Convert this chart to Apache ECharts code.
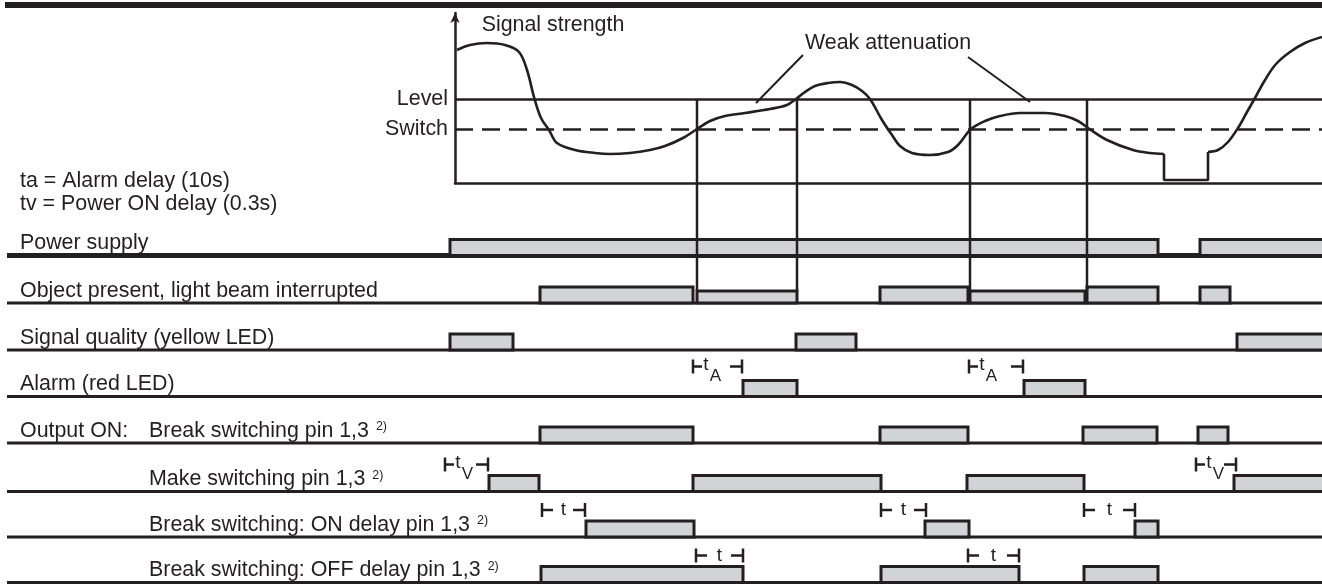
<!DOCTYPE html>
<html>
<head>
<meta charset="utf-8">
<script src="https://cdn.jsdelivr.net/npm/echarts@6/dist/echarts.min.js"></script>
<style>
html,body{margin:0;padding:0;background:#ffffff;}
#chart{width:1322px;height:584px;}
</style>
</head>
<body>
<div id="chart"></div>
<script>
// ================= DATA =================
// time values share one time axis; signal strength in signal units (0 = bottom of signal plot)
const signalCurve = [[457,133],[470,138],[487,140],[505,138],[519,131],[527,113],[534,86],[541,65],[549,53],[557,40],[575,33],[595,30],[610,29],[630,30],[650,33],[665,37],[683,45],[697,54],[710,62],[725,67],[745,70],[770,74],[787,78],[796,84],[805,91],[815,97],[828,100],[840,101],[852,98],[862,92],[870,84],[882,63],[892,48],[900,37],[912,30],[930,28],[948,31],[958,38],[971,54],[985,62],[1000,67],[1020,70],[1045,70],[1065,67],[1078,62],[1088,55],[1107,43],[1133,33],[1150,30],[1164,29]];
const signalNotch = [[1164,29],[1164,3],[1208,3],[1208,31]];
const signalRecovery = [[1208,31],[1218,33],[1228,41],[1238,55],[1247,71],[1255,85],[1265,103],[1276,119],[1290,131],[1305,140],[1322,146]];
const LEVEL = 84;
const SWITCH = 54;
const eventTimes = [697, 797, 970, 1087];

const rowLabels = ['Power supply', 'Object present, light beam interrupted', 'Signal quality (yellow LED)', 'Alarm (red LED)',
  'Break switching pin 1,3', 'Make switching pin 1,3', 'Break switching: ON delay pin 1,3', 'Break switching: OFF delay pin 1,3'];
const rowFootnote = ['', '', '', '', '2)', '2)', '2)', '2)'];
const groupLabel = 'Output ON:';
const noteTexts = ['ta = Alarm delay (10s)', 'tv = Power ON delay (0.3s)'];
const signalTitle = 'Signal strength';
const annotationText = 'Weak attenuation';
const levelLabel = 'Level';
const switchLabel = 'Switch';

const powerPulses    = [[450,1158],[1200,1330]];
const objectPulses   = [[540,693],[880,968],[1087,1158],[1200,1230]];
const objectWeakPulses = [[697,797],[970,1085]];
const qualityPulses  = [[450,513],[796,856],[1237,1330]];
const alarmPulses    = [[743,797],[1024,1085]];
const breakPulses    = [[540,693],[880,968],[1083,1157],[1198,1228]];
const makePulses     = [[489,539],[693,881],[967,1084],[1234,1330]];
const onDelayPulses  = [[586,694],[925,969],[1135,1158]];
const offDelayPulses = [[541,743],[881,1019],[1084,1158]];

const alarmDelayMarks   = [[693,742],[969,1023]];
const powerOnDelayMarks = [[445,488],[1196,1236]];
const onDelayMarks      = [[542,585],[881,926],[1084,1135]];
const offDelayMarks     = [[696,743],[968,1019]];

// ================= LAYOUT / STYLE =================
const INK = '#231f20';
const FILL = '#d1d3d4';
const FONT = '"Liberation Sans", Arial, Helvetica, sans-serif';
const FS = 21.4;
const SIG_T0 = 455;                     // time where signal plot starts
const ROW_BASE = [255.5, 303, 350, 396.5, 443, 491.5, 537, 582.5];
const ROW_LABEL_X = [20, 20, 20, 20, 149, 149, 149, 149];
const LABEL_RISE = 12;
const NOTE_POS = [[20, 181], [20, 204]];
const BASE_X0 = 7, BASE_X1 = 1322;
const SIG_BOTTOM_LAYOUT = 183;
const BAR_H = 16, WEAK_H = 12;
const ANNO = { text: [888, 140], lines: [[[803,128],[756,80]], [[968,126],[1030,81]]], title: [553, 158] };

const rowPulses = [powerPulses, objectPulses, qualityPulses, alarmPulses, breakPulses, makePulses, onDelayPulses, offDelayPulses];
const barData = [];
rowPulses.forEach((arr, r) => arr.forEach(p => barData.push([p[0], p[1], r, 0])));
objectWeakPulses.forEach(p => barData.push([p[0], p[1], 1, 1]));

const markData = [];
alarmDelayMarks.forEach(p => markData.push([p[0], p[1], 3, 1]));
powerOnDelayMarks.forEach(p => markData.push([p[0], p[1], 5, 2]));
onDelayMarks.forEach(p => markData.push([p[0], p[1], 6, 0]));
offDelayMarks.forEach(p => markData.push([p[0], p[1], 7, 0]));
const SUBS = ['', 'A', 'V'];

function txt(x, y, text, extra) {
  return Object.assign({ type: 'text', x: x, y: y, style: Object.assign({
    text: text, fill: INK, fontSize: FS, fontFamily: FONT, align: 'left', verticalAlign: 'middle'
  }, extra || {}) });
}
function seg(p, q, w) {
  return { type: 'line', shape: { x1: p[0], y1: p[1], x2: q[0], y2: q[1] }, style: { stroke: INK, lineWidth: w || 2.5 } };
}

const chart = echarts.init(document.getElementById('chart'), null, { renderer: 'canvas' });

chart.setOption({
  animation: false,
  backgroundColor: '#ffffff',
  graphic: [{ type: 'rect', shape: { x: 5, y: 2, width: 1320, height: 6 }, style: { fill: INK } }],
  grid: [
    { left: SIG_T0, right: 0, top: 13, height: 170 },
    { left: 0, right: 0, top: 0, height: 584 }
  ],
  xAxis: [
    { gridIndex: 0, type: 'value', min: SIG_T0, max: 1322,
      axisLine: { show: true, lineStyle: { color: INK, width: 2.5 } },
      axisTick: { show: false }, axisLabel: { show: false }, splitLine: { show: false } },
    { gridIndex: 1, type: 'value', min: 0, max: 1322, show: false, splitLine: { show: false } }
  ],
  yAxis: [
    { gridIndex: 0, type: 'value', min: 0, max: 170,
      axisLine: { show: true, symbol: ['none', 'arrow'], symbolSize: [7, 10], lineStyle: { color: INK, width: 2.5 } },
      axisTick: { show: false }, axisLabel: { show: false }, splitLine: { show: false } },
    { gridIndex: 1, type: 'value', min: 0, max: 584, inverse: true, show: false, splitLine: { show: false } }
  ],
  series: [
    // signal curve
    { type: 'line', xAxisIndex: 0, yAxisIndex: 0, data: signalCurve, smooth: 0.35, showSymbol: false, z: 5,
      lineStyle: { color: INK, width: 2.6 },
      markLine: { silent: true, symbol: ['none', 'none'], animation: false,
        data: [
          { yAxis: LEVEL, lineStyle: { type: 'solid', color: INK, width: 2.5 }, label: { formatter: levelLabel } },
          { yAxis: SWITCH, lineStyle: { type: [18, 9], color: INK, width: 2.5 }, label: { formatter: switchLabel } }
        ],
        label: { show: true, position: 'start', distance: 7, color: INK, fontSize: FS, fontFamily: FONT } } },
    { type: 'line', xAxisIndex: 0, yAxisIndex: 0, data: signalNotch, smooth: false, showSymbol: false, z: 5,
      lineStyle: { color: INK, width: 2.6 } },
    { type: 'line', xAxisIndex: 0, yAxisIndex: 0, data: signalRecovery, smooth: 0.35, showSymbol: false, z: 5,
      lineStyle: { color: INK, width: 2.6 } },
    // event lines in signal plot
    { type: 'custom', xAxisIndex: 0, yAxisIndex: 0, z: 6, data: eventTimes.map(t => [t]),
      renderItem: (params, api) => seg(api.coord([api.value(0), LEVEL]), api.coord([api.value(0), 0]), 2.5) },
    // annotations in signal plot
    { type: 'custom', xAxisIndex: 0, yAxisIndex: 0, z: 6, data: [[0]],
      renderItem: (params, api) => {
        const t = api.coord(ANNO.text), ti = api.coord(ANNO.title);
        return { type: 'group', children: [
          txt(t[0], t[1], annotationText, { align: 'center' }),
          txt(ti[0], ti[1], signalTitle, { align: 'center' }),
          seg(api.coord(ANNO.lines[0][0]), api.coord(ANNO.lines[0][1]), 2),
          seg(api.coord(ANNO.lines[1][0]), api.coord(ANNO.lines[1][1]), 2)
        ] };
      } },
    // row baselines
    { type: 'custom', xAxisIndex: 1, yAxisIndex: 1, z: 2, data: ROW_BASE.map((b, i) => [i]),
      renderItem: (params, api) => {
        const r = api.value(0);
        return seg(api.coord([BASE_X0, ROW_BASE[r]]), api.coord([BASE_X1, ROW_BASE[r]]), r === 0 ? 5 : 3);
      } },
    // pulses
    { type: 'custom', xAxisIndex: 1, yAxisIndex: 1, z: 3, data: barData,
      renderItem: (params, api) => {
        const base = ROW_BASE[api.value(2)];
        const h = api.value(3) ? WEAK_H : BAR_H;
        const p0 = api.coord([api.value(0), base - h]);
        const p1 = api.coord([api.value(1), base]);
        return { type: 'rect', shape: { x: p0[0], y: p0[1], width: p1[0] - p0[0], height: p1[1] - p0[1] },
          style: { fill: FILL, stroke: INK, lineWidth: 3 } };
      } },
    // event lines continuing down into rows
    { type: 'custom', xAxisIndex: 1, yAxisIndex: 1, z: 6, data: eventTimes.map(t => [t]),
      renderItem: (params, api) => seg(api.coord([api.value(0), SIG_BOTTOM_LAYOUT]), api.coord([api.value(0), ROW_BASE[1] - WEAK_H]), 2.5) },
    // delay markers
    { type: 'custom', xAxisIndex: 1, yAxisIndex: 1, z: 6, data: markData,
      renderItem: (params, api) => {
        const row = api.value(2), kind = api.value(3);
        const yc = ROW_BASE[row] - (kind === 1 ? 30 : 27);
        const a = api.coord([api.value(0), yc]), b = api.coord([api.value(1), yc]);
        const k = 7;
        const ch = [
          seg([a[0], a[1] - k], [a[0], a[1] + k], 2.5),
          seg([a[0], a[1]], [a[0] + (kind ? 9 : 11), a[1]], 2.5),
          seg([b[0], b[1] - k], [b[0], b[1] + k], 2.5),
          seg([b[0] - 12, b[1]], [b[0], b[1]], 2.5)
        ];
        if (kind) {
          ch.push(txt(a[0] + 13, a[1] - 1.5, 't', { align: 'center', fontSize: 19 }));
          ch.push(txt(a[0] + 22.5, a[1] + 10, SUBS[kind], { align: 'center', fontSize: 17 }));
        } else {
          ch.push(txt((a[0] + b[0]) / 2, a[1], 't', { align: 'center', fontSize: 19 }));
        }
        return { type: 'group', children: ch };
      } },
    // texts
    { type: 'custom', xAxisIndex: 1, yAxisIndex: 1, z: 7, data: rowLabels.map((l, i) => [i]),
      renderItem: (params, api) => {
        const r = api.value(0);
        const p = api.coord([ROW_LABEL_X[r], ROW_BASE[r] - LABEL_RISE]);
        const children = [];
        if (rowFootnote[r]) {
          children.push(txt(p[0], p[1], '{m|' + rowLabels[r] + ' }{s|' + rowFootnote[r] + '}', {
            rich: { m: { fontSize: FS, fontFamily: FONT, fill: INK },
                    s: { fontSize: 12.5, fontFamily: FONT, fill: INK, verticalAlign: 'top', padding: [0, 0, 0, 1] } } }));
        } else {
          children.push(txt(p[0], p[1], rowLabels[r]));
        }
        if (r === 4) {
          const q = api.coord([ROW_LABEL_X[0], ROW_BASE[r] - LABEL_RISE]);
          children.push(txt(q[0], q[1], groupLabel));
        }
        if (r === 0) {
          noteTexts.forEach((n, i) => {
            const q = api.coord(NOTE_POS[i]);
            children.push(txt(q[0], q[1], n));
          });
        }
        return { type: 'group', children: children };
      } }
  ]
});
</script>
</body>
</html>
